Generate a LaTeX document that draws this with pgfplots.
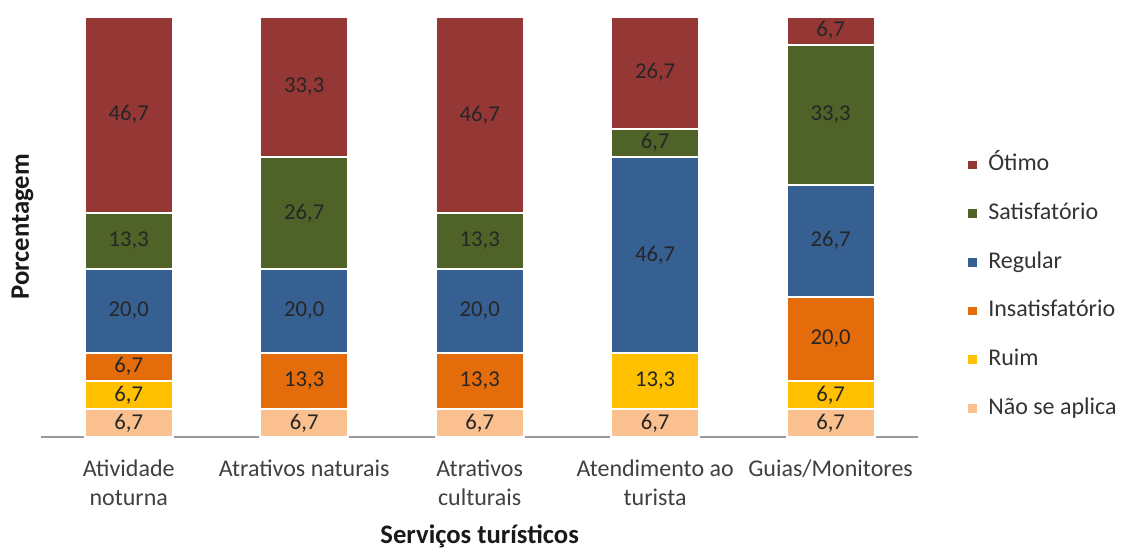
\documentclass[border=0pt]{standalone}
\usepackage{pgfplots}
\pgfplotsset{compat=1.18}
\usepackage{pgfplotstable}
\usepackage{fontspec}
\setmainfont{Carlito}

\definecolor{otimo}{HTML}{953735}
\definecolor{satisf}{HTML}{4F6228}
\definecolor{regular}{HTML}{376092}
\definecolor{insat}{HTML}{E46C0A}
\definecolor{ruim}{HTML}{FFC000}
\definecolor{naoap}{HTML}{FAC090}

% categories at 0..4: Atividade noturna, Atrativos naturais, Atrativos culturais,
% Atendimento ao turista, Guias/Monitores
\pgfplotstableread{
x   na   ruim  ins   reg   sat   ot
0   6.7  6.7   6.7   20.0  13.3  46.7
1   6.7  0     13.3  20.0  26.7  33.3
2   6.7  0     13.3  20.0  13.3  46.7
3   6.7  13.3  0     46.7  6.7   26.7
4   6.7  6.7   20.0  26.7  33.3  6.7
}\servicos

\begin{document}
\begin{tikzpicture}
  \fontsize{18pt}{21.75pt}\selectfont
  \path[use as bounding box] (-30.75pt,-85.5pt) rectangle (814.5pt,327.75pt);
  \begin{axis}[
      ybar stacked,
      scale only axis,
      x=131.6pt, y=3.15pt,
      bar width=66pt,
      xmin=-0.5, xmax=4.5,
      ymin=0, ymax=100,
      clip=false,
      axis x line*=bottom,
      axis y line*=left,
      y axis line style={draw=none},
      x axis line style={draw=black!40, line width=2pt},
      ytick=\empty,
      xtick=data,
      xtick style={draw=none},
      xticklabels={{Atividade\\noturna},{Atrativos naturais},{Atrativos\\culturais},{Atendimento ao\\turista},{Guias/Monitores}},
      xticklabel style={align=center, text=black!75, anchor=north, yshift=-11pt},
      xlabel={\textbf{Serviços turísticos}},
      xlabel style={at={(axis description cs:0.5,-0.236)}, anchor=center, text=black!90,
        font=\fontsize{20pt}{24pt}\selectfont},
      ylabel={\textbf{Porcentagem}},
      ylabel style={at={(axis description cs:-0.021,0.5)}, anchor=center, text=black!90,
        font=\fontsize{20pt}{24pt}\selectfont},
      /pgf/number format/.cd, use comma, fixed, fixed zerofill, precision=1, assume math mode=true,
      /pgfplots/.cd,
      point meta=explicit,
      nodes near coords={\pgfmathfloatifflags{\pgfplotspointmeta}{0}{}{\pgfmathprintnumber{\pgfplotspointmeta}}},
      every node near coord/.append style={anchor=center, text=black!85,
        font=\fontsize{17pt}{20pt}\selectfont},
      every axis plot/.append style={draw=white, line width=1.5pt},
      reverse legend,
      legend cell align=left,
      legend image code/.code={\fill[#1] (0pt,-4.1pt) rectangle (8.2pt,4.1pt);},
      legend style={draw=none, fill=none, at={(axis description cs:1.054,0.358)}, anchor=west,
        inner sep=0pt, row sep=19.5pt, text=black!80,
        nodes={inner sep=0pt, text height=13pt, text depth=4pt},
        /tikz/every odd column/.append style={column sep=7pt}},
    ]
    \addplot[fill=naoap]   table[x=x, y=na,   meta=na]   {\servicos};
    \addplot[fill=ruim]    table[x=x, y=ruim, meta=ruim] {\servicos};
    \addplot[fill=insat]   table[x=x, y=ins,  meta=ins]  {\servicos};
    \addplot[fill=regular] table[x=x, y=reg,  meta=reg]  {\servicos};
    \addplot[fill=satisf]  table[x=x, y=sat,  meta=sat]  {\servicos};
    \addplot[fill=otimo]   table[x=x, y=ot,   meta=ot]   {\servicos};
    \legend{Não se aplica,Ruim,Insatisfatório,Regular,Satisfatório,Ótimo}
  \end{axis}
\end{tikzpicture}
\end{document}
